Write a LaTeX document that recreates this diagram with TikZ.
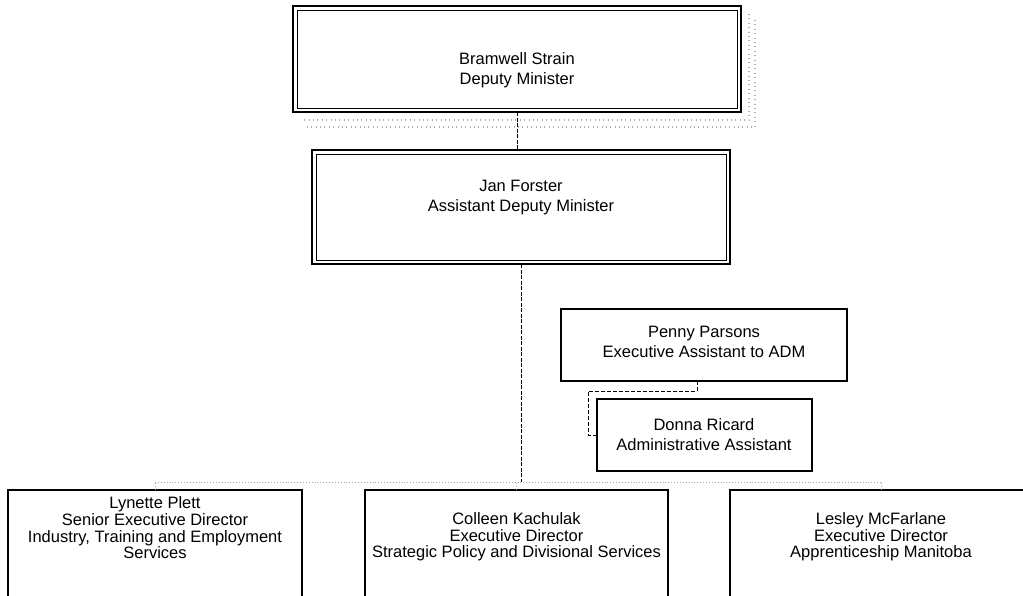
\documentclass[tikz,border=0pt]{standalone}
\usepackage{fontspec}
\setmainfont{Liberation Sans}
\begin{document}
\begin{tikzpicture}[x=1pt,y=-1pt,
  box/.style={draw, inner sep=0pt, outer sep=0pt, line width=1.1pt},
  heavybox/.style={box, line width=2pt},
  txt/.style={align=center, inner sep=0pt, font=\fontsize{16.5}{20}\selectfont},
  txtlow/.style={align=center, inner sep=0pt, font=\fontsize{16.5}{16.7}\selectfont},
  vline/.style={line width=1pt, dash pattern=on 4pt off 1.5pt},
  busline/.style={line width=0.9pt, gray!70, dotted},
  asst/.style={line width=0.8pt, dash pattern=on 4pt off 2pt},
  shadowline/.style={gray!65, line width=1.1pt, dash pattern=on 0.9pt off 3.5pt}]
\useasboundingbox (0,0) rectangle (1023,595);
\clip (0,0) rectangle (1023,595);

% Deputy Minister: heavy double frame with a dotted drop shadow
\draw[shadowline] (749,14) -- (749,120) -- (301,120);
\draw[shadowline] (755,20) -- (755,127) -- (307,127);
\node[heavybox, fill=white, minimum width=448pt, minimum height=106pt] (dm) at (517,59) {};
\draw[line width=0.6pt] ([shift={(4pt,-4pt)}]dm.north west) rectangle ([shift={(-4pt,4pt)}]dm.south east);
\node[txt] (dmT) at (517,70) {Bramwell Strain\\Deputy Minister};

% Assistant Deputy Minister
\node[box, line width=1.8pt, minimum width=418pt, minimum height=114pt] (adm) at (521,207) {};
\draw[line width=0.5pt] ([shift={(4pt,-4pt)}]adm.north west) rectangle ([shift={(-4pt,4pt)}]adm.south east);
\node[txt] (admT) at (521,198) {Jan Forster\\Assistant Deputy Minister};

% Support staff
\node[box, minimum width=286pt, minimum height=72pt] (pen) at (704,345) {};
\node[txt] (penT) at (704,342) {Penny Parsons\\Executive Assistant to ADM};
\node[box, minimum width=215pt, minimum height=72pt] (don) at (704.5,435) {};
\node[txt] (donT) at (704,435) {Donna Ricard\\Administrative Assistant};

% Directors (frames run past the lower edge)
\node[box, anchor=north, minimum width=294pt, minimum height=130pt] (lyn) at (155,490) {};
\node[box, anchor=north, minimum width=303pt, minimum height=130pt] (col) at (516.5,490) {};
\node[box, anchor=north, minimum width=302pt, minimum height=130pt] (les) at (881,490) {};
\node[txtlow] (lynT) at (155,528) {Lynette Plett\\Senior Executive Director\\Industry, Training and Employment\\Services};
\node[txtlow] (colT) at (516.5,537) {Colleen Kachulak\\Executive Director\\Strategic Policy and Divisional Services};
\node[txtlow] (lesT) at (881,537) {Lesley McFarlane\\Executive Director\\Apprenticeship Manitoba};

% Reporting lines
\coordinate (busY) at (0,482);
\coordinate (asstElbow) at (588,391);
\draw[vline] (dm.south) -- (dm.south |- adm.north);
\draw[vline] (adm.south) -- (adm.south |- busY);
\draw[busline] (lyn.north |- busY) -- (les.north |- busY);
\draw[busline] (lyn.north) -- (lyn.north |- busY);
\draw[busline] (col.north) -- (col.north |- busY);
\draw[busline] (les.north) -- (les.north |- busY);
\draw[asst] ([xshift=-7pt]pen.south) |- (asstElbow) |- (don.west);
\end{tikzpicture}
\end{document}
